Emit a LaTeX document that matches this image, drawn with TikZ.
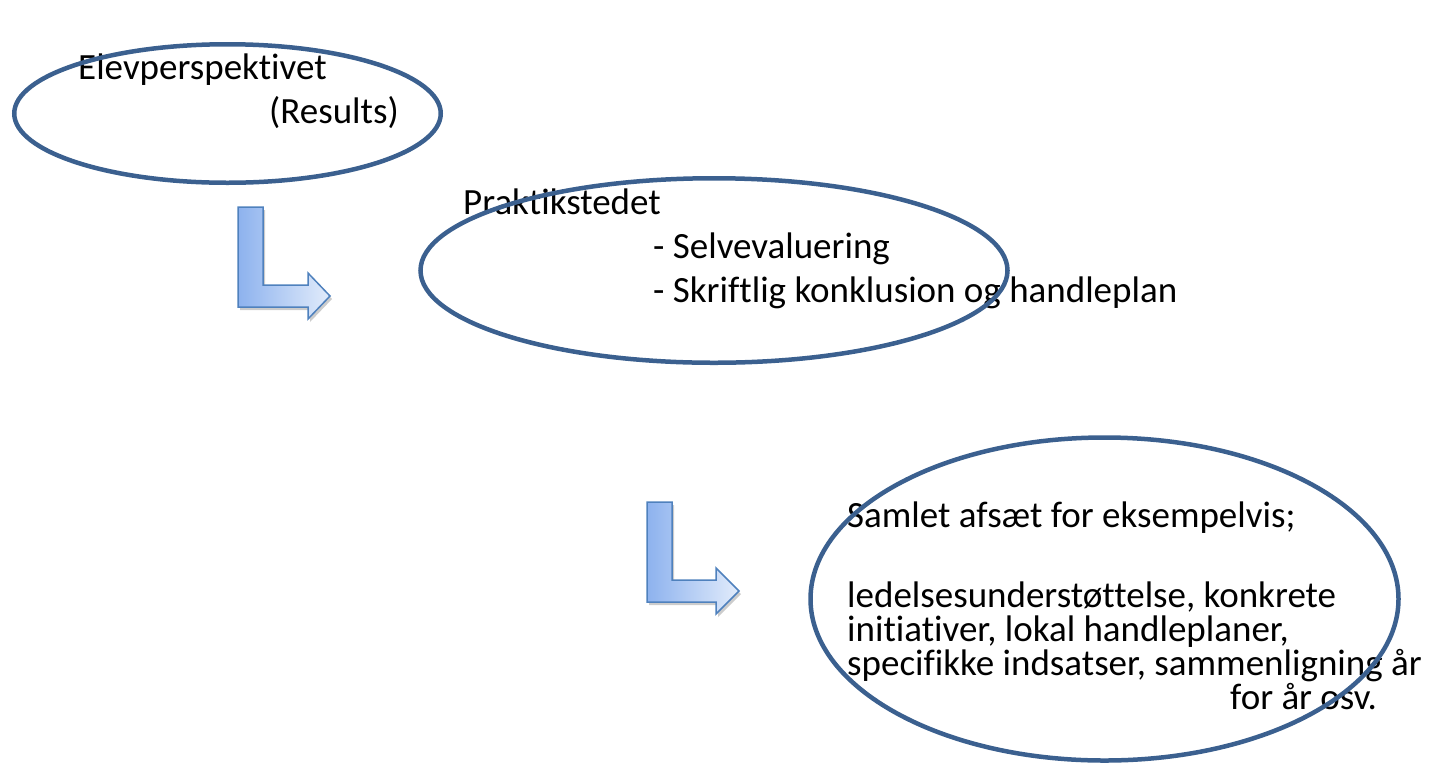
\documentclass[tikz,border=0pt]{standalone}
\usepackage{fontspec}
\setmainfont{Carlito}[Ligatures=NoCommon]
\usetikzlibrary{shadows}
\definecolor{ellblue}{RGB}{59,96,143}
\definecolor{arrline}{RGB}{79,129,189}
\definecolor{arrdark}{RGB}{141,178,238}
\definecolor{arrlight}{RGB}{226,236,251}
\tikzset{
  txt/.style={anchor=base west, inner sep=0pt, font=\fontsize{37}{44}\selectfont},
  oval/.style={draw=ellblue, line width=4.5pt, fill=none},
  bentarrow/.style={draw=arrline, line width=1.5pt, line join=miter, left color=arrdark, right color=arrlight,
    drop shadow={shadow xshift=2pt, shadow yshift=-3pt, opacity=0.2, fill=black}}
}
\begin{document}
\begin{tikzpicture}[x=1pt,y=-1pt]
\useasboundingbox (0,0) rectangle (1431,764);
% texts
\node[txt] (t1) at (78,79) {Elevperspektivet};
\node[txt] (t2) at (269,123) {(Results)};
\node[txt] (t3) at (463,214) {Praktikstedet};
\node[txt] (t4) at (653,258) {- Selvevaluering};
\node[txt] (t5) at (653,302) {- Skriftlig konklusion og handleplan};
\node[txt] (t6) at (847,527) {Samlet afsæt for eksempelvis;};
\node[txt] (t7) at (847,607) {ledelsesunderstøttelse, konkrete};
\node[txt] (t8) at (847,641) {initiativer, lokal handleplaner,};
\node[txt] (t9) at (847,675) {specifikke indsatser, sammenligning år};
\node[txt] (t10) at (1230,709) {for år osv.};
% ellipses
\draw[oval] (227.5,113.5) ellipse [x radius=213.25, y radius=69.25];
\draw[oval] (714,270.5) ellipse [x radius=293.5, y radius=92.25];
\draw[oval] (1104.5,599) ellipse [x radius=294, y radius=161.5];
% bent arrows
\path[bentarrow] (238,207) -- (263,207) -- (263,285) -- (308,285) -- (308,273) -- (330,296)
  -- (308,319) -- (308,307) -- (238,307) -- cycle;
\path[bentarrow] (647,502) -- (672,502) -- (672,580) -- (716,580) -- (716,568) -- (739,591)
  -- (716,614) -- (716,602) -- (647,602) -- cycle;
\end{tikzpicture}
\end{document}
